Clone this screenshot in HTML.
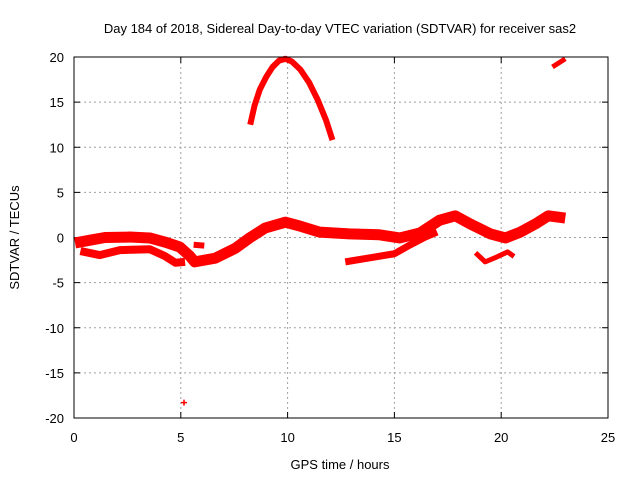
<!DOCTYPE html>
<html><head><meta charset="utf-8"><style>
body{margin:0;background:#fff}
svg{display:block;font-family:"Liberation Sans",sans-serif;font-size:13px}
</style></head><body>
<svg id="c" width="640" height="480">
<rect width="640" height="480" fill="#fff"/>
<text x="340" y="33" text-anchor="middle">Day 184 of 2018, Sidereal Day-to-day VTEC variation (SDTVAR) for receiver sas2</text>
<text x="340" y="469" text-anchor="middle">GPS time / hours</text>
<text transform="translate(19,237.5) rotate(-90)" text-anchor="middle">SDTVAR / TECUs</text>
<g id="grid"></g><g id="ticks"></g><g id="series"></g>
<rect x="74" y="57" width="534" height="361" fill="none" stroke="#000" stroke-width="1"/>
</svg>
<script>
const xTicks=[0,5,10,15,20,25];
const yTicks=[-20,-15,-10,-5,0,5,10,15,20];
const seriesMainHours=[0.05,0.75,1.45,2.6,3.55,4.25,4.95,5.4,5.65,6.6,7.55,8.25,8.95,9.9,10.6,11.5,12.9,14.3,15.25,16.2,17.1,17.85,18.55,19.5,20.2,20.9,21.6,22.2,23.0];
const seriesMainValues=[-0.6,-0.3,0.0,0.05,-0.05,-0.5,-1.05,-2.0,-2.7,-2.3,-1.2,0.0,1.05,1.7,1.25,0.6,0.4,0.3,-0.05,0.5,1.9,2.4,1.5,0.4,-0.05,0.6,1.5,2.4,2.15];
const seriesLoopHours=[0.3,1.2,2.15,3.55,4.25,4.75,5.2];
const seriesLoopValues=[-1.5,-1.95,-1.4,-1.3,-2.05,-2.8,-2.7];
const seriesLowHours=[12.7,13.85,15.0,15.75,16.45,17.0];
const seriesLowValues=[-2.7,-2.25,-1.8,-0.8,0.05,0.6];
const seriesDipHours=[18.8,19.25,19.8,20.3,20.6];
const seriesDipValues=[-1.7,-2.7,-2.15,-1.6,-2.1];
const seriesBlobHours=[5.6,6.1];
const seriesBlobValues=[-0.8,-0.9];
const seriesArcHours=[8.25,8.45,8.7,9.0,9.3,9.6,9.9,10.2,10.6,11.0,11.4,11.8,12.1];
const seriesArcValues=[12.5,14.6,16.4,17.8,18.9,19.6,19.8,19.5,18.6,17.2,15.3,13.0,10.8];
const seriesTopHours=[22.4,23.0];
const seriesTopValues=[18.9,19.8];
const outlierHours=[5.15];
const outlierValues=[-18.3];

const NS='http://www.w3.org/2000/svg';
const X=h=>74+h*(534/25);
const Y=v=>237.5-v*(361/40);
function mk(t,a,p){const e=document.createElementNS(NS,t);for(const k in a)e.setAttribute(k,a[k]);p.appendChild(e);return e;}
const grid=document.getElementById('grid'),ticks=document.getElementById('ticks'),ser=document.getElementById('series');
xTicks.forEach(t=>{
 if(t>0&&t<25){const g=mk('line',{x1:X(t),x2:X(t),y1:57,y2:418,stroke:'#a0a0a0','stroke-dasharray':'2,3'},grid);
 
 }
 mk('line',{x1:X(t),x2:X(t),y1:418,y2:412,stroke:'#000'},ticks);
 mk('line',{x1:X(t),x2:X(t),y1:57,y2:63,stroke:'#000'},ticks);
 const l=mk('text',{x:X(t),y:442,'text-anchor':'middle'},ticks);l.textContent=t;
 
 
});
yTicks.forEach(t=>{
 if(t>-20&&t<20){const g=mk('line',{x1:74,x2:608,y1:Y(t),y2:Y(t),stroke:'#a0a0a0','stroke-dasharray':'2,3'},grid);
 
 }
 mk('line',{x1:74,x2:80,y1:Y(t),y2:Y(t),stroke:'#000'},ticks);
 mk('line',{x1:608,x2:602,y1:Y(t),y2:Y(t),stroke:'#000'},ticks);
 const l=mk('text',{x:64,y:Y(t)+5,'text-anchor':'end'},ticks);l.textContent=t;
 
 
});
function line(hs,vs,w,name){
 const pts=hs.map((h,i)=>X(h)+','+Y(vs[i])).join(' ');
 const p=mk('polyline',{points:pts,fill:'none',stroke:'#ff0000','stroke-width':w,'stroke-linejoin':'round','stroke-linecap':'butt'},ser);
 
 
}
line(seriesMainHours,seriesMainValues,11,'series-main-band');
line(seriesLoopHours,seriesLoopValues,8,'series-loop-band');
line(seriesLowHours,seriesLowValues,7,'series-low-band');
line(seriesDipHours,seriesDipValues,5,'series-dip-band');
line(seriesBlobHours,seriesBlobValues,6,'series-blob');
line(seriesArcHours,seriesArcValues,6,'series-arc');
line(seriesTopHours,seriesTopValues,5,'series-top-right');
outlierHours.forEach((h,i)=>{
 const g=mk('path',{d:`M${X(h)-3},${Y(outlierValues[i])}h6M${X(h)},${Y(outlierValues[i])-3}v6`,stroke:'#ff0000','stroke-width':1.5},ser);
 
 
});
</script>
</body></html>
